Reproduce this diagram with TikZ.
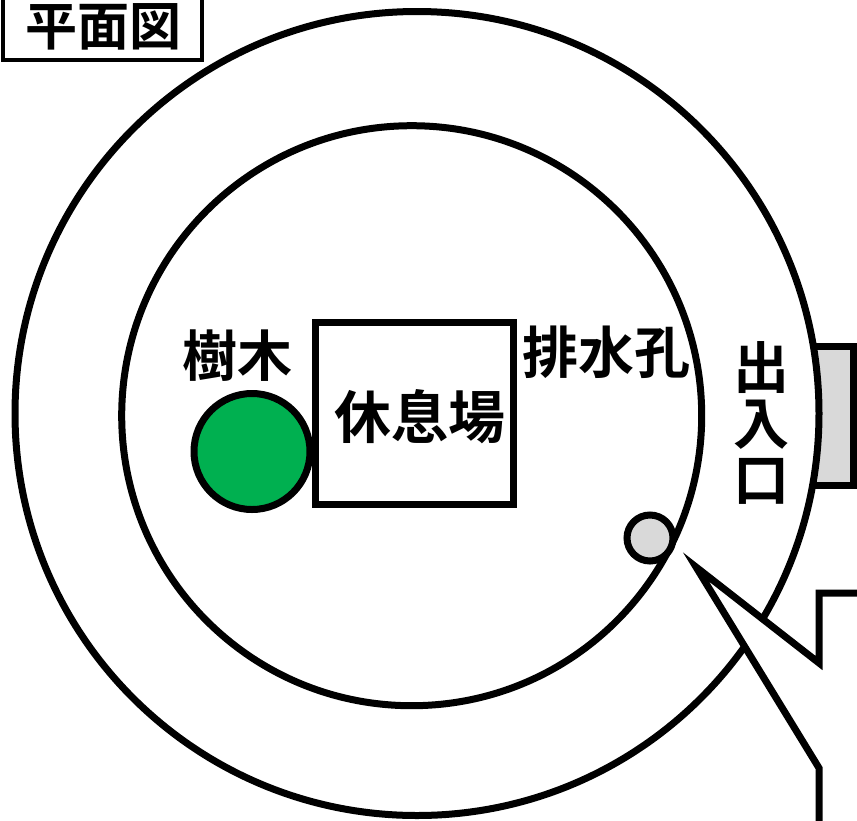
\documentclass[tikz,border=0pt]{standalone}
\usepackage{fontspec}
\newfontfamily\cjk{Noto Sans CJK JP}[BoldFont={Noto Sans CJK JP Bold}]
\definecolor{pale}{RGB}{217,217,217}
\definecolor{leaf}{RGB}{0,176,80}
\tikzset{
  ln/.style={draw=black,line width=7pt,miter limit=10},
  round/.style={ln,circle,inner sep=0pt},
  lbl/.style={inner sep=0pt,text=black},
}
\newcommand{\lblfont}[1]{\cjk\bfseries\fontsize{#1pt}{#1pt}\selectfont}
\begin{document}
\begin{tikzpicture}[x=1pt,y=-1pt]
\useasboundingbox (0,0) rectangle (857,820);
\begin{scope}
\clip (0,0) rectangle (857,820);
\path[fill=white] (0,0) rectangle (857,820);
\draw[ln,fill=pale] (780,346.5) rectangle (853,485);
\node[round,fill=white,minimum size=804pt] (outer) at (417,413.5) {};
\node[round,fill=white,minimum size=580pt] (inner) at (411.7,415.7) {};
\node[ln,rectangle,fill=white,minimum width=198pt,minimum height=182pt,inner sep=0pt] (rest) at (414.5,413) {};
\node[round,fill=leaf,minimum size=116pt] (tree) at (252,451.5) {};
\node[round,fill=pale,minimum size=46pt] (drain) at (650,538) {};
\draw[ln,fill=white] (870,593) -- (819,593) -- (819,663) -- (696,567) -- (819,768) -- (819,830) -- (870,830) -- cycle;
\draw[draw=black,line width=4pt,fill=white] (2.5,-10) rectangle (201.5,60);
\node[lbl,font=\lblfont{52}] (t1) at (103,26.5) {平面図};
\node[lbl,font=\lblfont{55}] (t2) at (237,356) {樹木};
\node[lbl,font=\lblfont{57}] (t3) at (420,417) {休息場};
\node[lbl,font=\lblfont{56}] (t4) at (606,352) {排水孔};
\node[lbl,font=\lblfont{56},align=center] (t5) at (761,423) {出\\入\\口};
\end{scope}
\end{tikzpicture}
\end{document}
